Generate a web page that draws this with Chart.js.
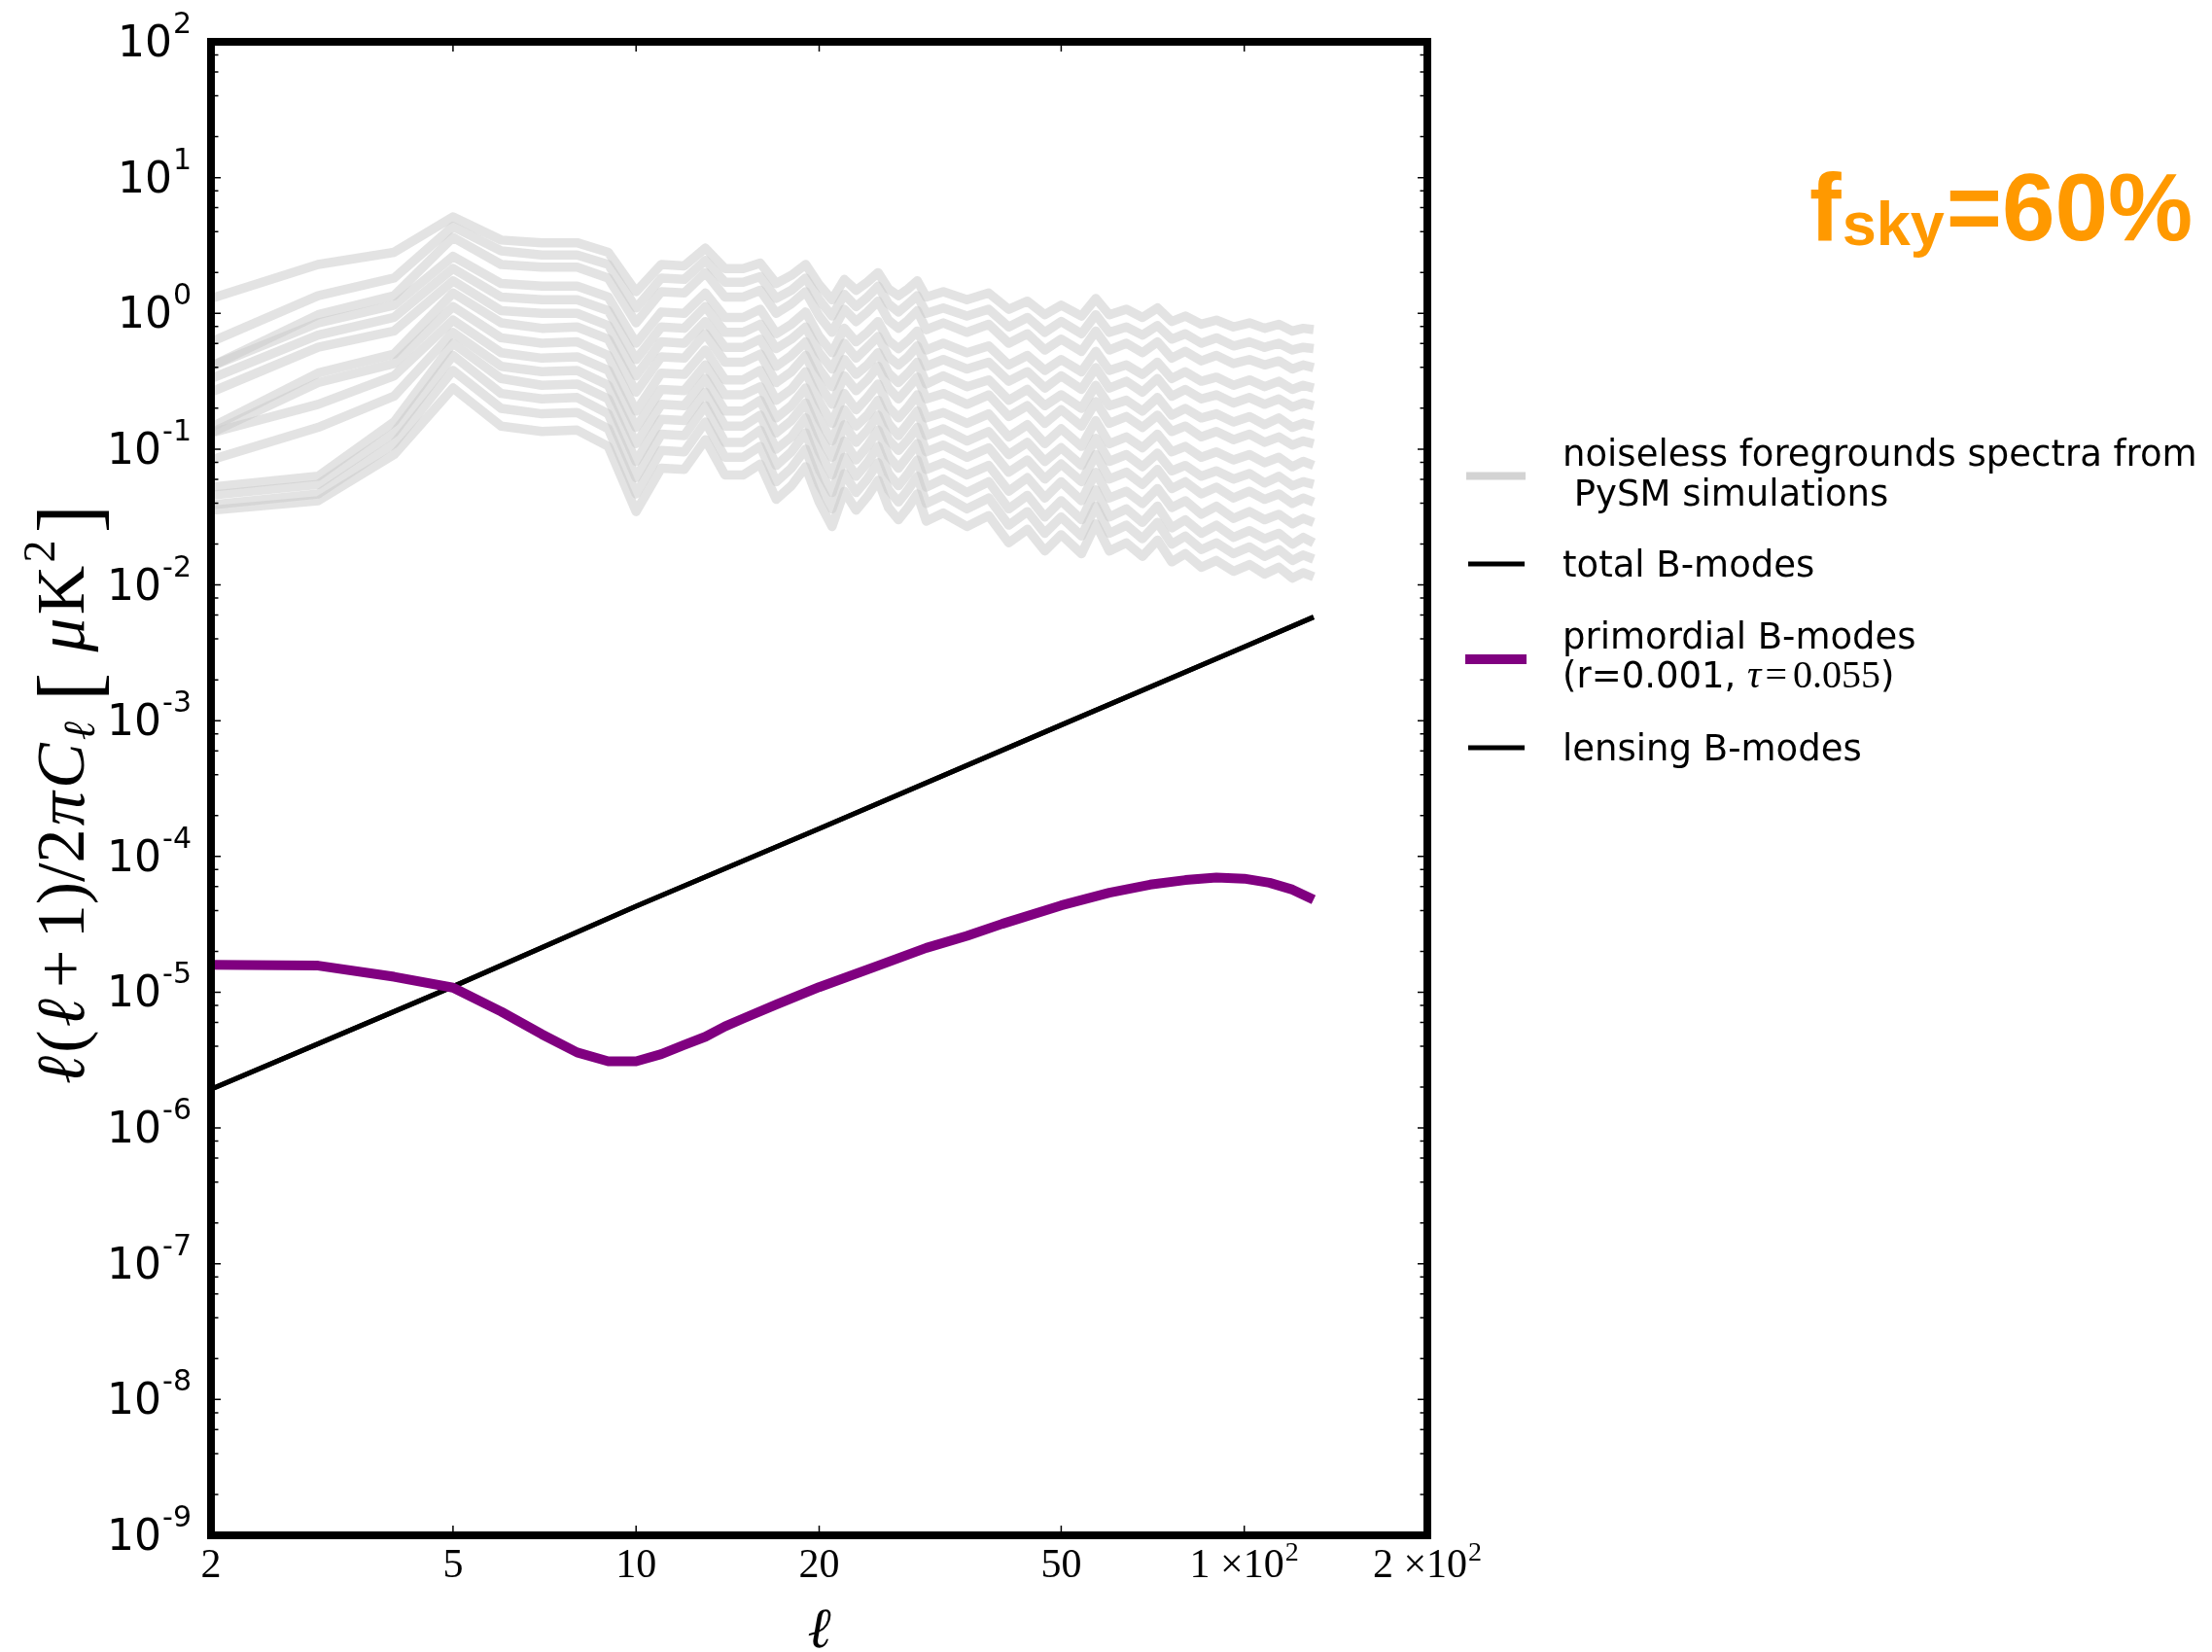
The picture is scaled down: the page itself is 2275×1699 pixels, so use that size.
<!DOCTYPE html>
<html><head><meta charset="utf-8">
<script src="https://cdn.jsdelivr.net/npm/chart.js@4/dist/chart.umd.min.js"></script>
<style>html,body{margin:0;padding:0;background:#fff;}#wrap{width:2275px;height:1699px;position:relative;}</style>
</head><body><div id="wrap"><canvas id="c"></canvas></div>
<script>
// multipole grid for the foreground spectra
const ellGrid = [2,3,4,5,6,7,8,9,10,11,12,13,14,15,16,17,18,19,20,21,22,23,24,25,26,27,28,29,30,32,35,38,41,44,47,50,54,57,60,64,68,72,76,80,85,90,96,102,108,114,120,125,130];
// foreground spectra, log10 of D_ell [uK^2]
const fgLog01 = [0.11,0.36,0.45,0.71,0.54,0.52,0.52,0.45,0.16,0.36,0.35,0.48,0.33,0.33,0.37,0.22,0.28,0.36,0.21,0.10,0.25,0.17,0.23,0.30,0.18,0.13,0.18,0.24,0.12,0.16,0.10,0.15,0.03,0.09,-0.01,0.06,-0.02,0.11,-0.01,0.03,-0.03,0.04,-0.06,-0.02,-0.08,-0.05,-0.10,-0.07,-0.11,-0.08,-0.13,-0.11,-0.12];
const fgLog02 = [-0.21,0.13,0.26,0.64,0.46,0.43,0.43,0.36,0.04,0.26,0.25,0.39,0.23,0.23,0.27,0.11,0.17,0.26,0.10,-0.02,0.14,0.05,0.12,0.20,0.07,0.01,0.07,0.13,0.00,0.04,-0.02,0.03,-0.10,-0.03,-0.14,-0.06,-0.15,-0.01,-0.14,-0.10,-0.16,-0.09,-0.19,-0.15,-0.22,-0.18,-0.24,-0.21,-0.25,-0.22,-0.27,-0.25,-0.26];
const fgLog03 = [-0.39,-0.01,0.13,0.56,0.36,0.34,0.34,0.26,-0.07,0.16,0.15,0.30,0.12,0.12,0.17,0.00,0.07,0.16,-0.02,-0.14,0.03,-0.06,0.01,0.09,-0.05,-0.11,-0.05,0.02,-0.12,-0.07,-0.14,-0.08,-0.22,-0.15,-0.27,-0.19,-0.28,-0.13,-0.27,-0.22,-0.29,-0.21,-0.33,-0.28,-0.35,-0.31,-0.37,-0.34,-0.38,-0.35,-0.41,-0.38,-0.40];
const fgLog04 = [-0.39,-0.07,0.06,0.42,0.22,0.20,0.20,0.12,-0.22,0.01,0.00,0.15,-0.03,-0.03,0.03,-0.15,-0.08,0.01,-0.17,-0.29,-0.11,-0.21,-0.14,-0.06,-0.20,-0.26,-0.20,-0.13,-0.27,-0.22,-0.29,-0.24,-0.38,-0.31,-0.42,-0.34,-0.43,-0.28,-0.42,-0.38,-0.45,-0.36,-0.48,-0.43,-0.50,-0.47,-0.53,-0.49,-0.54,-0.50,-0.56,-0.53,-0.55];
const fgLog05 = [-0.48,-0.16,-0.03,0.33,0.12,0.10,0.10,0.02,-0.34,-0.10,-0.11,0.05,-0.14,-0.14,-0.08,-0.26,-0.19,-0.10,-0.29,-0.41,-0.22,-0.33,-0.25,-0.17,-0.32,-0.38,-0.32,-0.24,-0.39,-0.34,-0.41,-0.36,-0.50,-0.43,-0.55,-0.46,-0.56,-0.40,-0.55,-0.50,-0.58,-0.48,-0.61,-0.56,-0.63,-0.60,-0.66,-0.62,-0.67,-0.63,-0.69,-0.66,-0.68];
const fgLog06 = [-0.58,-0.25,-0.13,0.24,0.02,0.00,0.00,-0.09,-0.46,-0.21,-0.22,-0.06,-0.25,-0.25,-0.19,-0.39,-0.31,-0.21,-0.41,-0.54,-0.34,-0.45,-0.38,-0.29,-0.44,-0.51,-0.44,-0.36,-0.52,-0.46,-0.54,-0.49,-0.64,-0.56,-0.68,-0.60,-0.70,-0.53,-0.68,-0.64,-0.72,-0.62,-0.75,-0.70,-0.77,-0.74,-0.80,-0.76,-0.82,-0.77,-0.84,-0.81,-0.83];
const fgLog07 = [-0.84,-0.44,-0.30,0.15,-0.07,-0.11,-0.10,-0.19,-0.58,-0.32,-0.33,-0.15,-0.36,-0.36,-0.30,-0.51,-0.43,-0.31,-0.52,-0.67,-0.46,-0.57,-0.49,-0.39,-0.55,-0.63,-0.55,-0.47,-0.63,-0.59,-0.67,-0.60,-0.76,-0.68,-0.81,-0.71,-0.83,-0.65,-0.81,-0.76,-0.84,-0.75,-0.87,-0.83,-0.91,-0.87,-0.93,-0.89,-0.95,-0.91,-0.97,-0.94,-0.96];
const fgLog08 = [-0.88,-0.51,-0.37,0.05,-0.18,-0.22,-0.21,-0.31,-0.72,-0.44,-0.45,-0.27,-0.49,-0.49,-0.42,-0.64,-0.56,-0.43,-0.65,-0.81,-0.59,-0.71,-0.62,-0.52,-0.69,-0.77,-0.69,-0.60,-0.77,-0.73,-0.81,-0.74,-0.91,-0.82,-0.96,-0.85,-0.98,-0.79,-0.96,-0.91,-0.99,-0.89,-1.02,-0.98,-1.06,-1.02,-1.08,-1.04,-1.10,-1.06,-1.13,-1.09,-1.12];
const fgLog09 = [-0.88,-0.67,-0.46,-0.05,-0.29,-0.33,-0.32,-0.42,-0.84,-0.56,-0.57,-0.38,-0.60,-0.60,-0.54,-0.77,-0.68,-0.55,-0.78,-0.94,-0.71,-0.83,-0.75,-0.64,-0.81,-0.90,-0.81,-0.72,-0.90,-0.85,-0.94,-0.87,-1.04,-0.95,-1.09,-0.99,-1.12,-0.92,-1.09,-1.04,-1.13,-1.03,-1.16,-1.12,-1.20,-1.16,-1.22,-1.18,-1.25,-1.20,-1.27,-1.24,-1.26];
const fgLog10 = [-1.08,-0.84,-0.61,-0.14,-0.39,-0.43,-0.42,-0.53,-0.96,-0.67,-0.68,-0.48,-0.72,-0.72,-0.64,-0.88,-0.79,-0.66,-0.90,-1.06,-0.82,-0.95,-0.86,-0.75,-0.93,-1.01,-0.93,-0.84,-1.02,-0.97,-1.06,-0.99,-1.17,-1.08,-1.22,-1.11,-1.24,-1.04,-1.22,-1.17,-1.26,-1.15,-1.29,-1.24,-1.33,-1.28,-1.36,-1.31,-1.37,-1.33,-1.40,-1.36,-1.39];
const fgLog11 = [-1.28,-1.20,-0.80,-0.22,-0.48,-0.53,-0.52,-0.63,-1.09,-0.78,-0.79,-0.58,-0.83,-0.83,-0.75,-1.00,-0.91,-0.77,-1.02,-1.19,-0.94,-1.08,-0.98,-0.86,-1.05,-1.14,-1.05,-0.96,-1.15,-1.10,-1.19,-1.12,-1.31,-1.21,-1.36,-1.24,-1.38,-1.17,-1.36,-1.31,-1.40,-1.29,-1.43,-1.38,-1.48,-1.42,-1.51,-1.46,-1.52,-1.48,-1.55,-1.51,-1.54];
const fgLog12 = [-1.34,-1.26,-0.88,-0.31,-0.59,-0.63,-0.62,-0.74,-1.21,-0.89,-0.90,-0.68,-0.95,-0.95,-0.86,-1.12,-1.02,-0.88,-1.15,-1.32,-1.06,-1.20,-1.10,-0.98,-1.18,-1.27,-1.18,-1.08,-1.28,-1.22,-1.32,-1.24,-1.44,-1.34,-1.50,-1.38,-1.52,-1.30,-1.50,-1.44,-1.54,-1.42,-1.58,-1.52,-1.62,-1.56,-1.65,-1.60,-1.66,-1.62,-1.70,-1.65,-1.69];
const fgLog13 = [-1.41,-1.33,-0.96,-0.42,-0.70,-0.74,-0.73,-0.85,-1.33,-1.01,-1.02,-0.80,-1.06,-1.06,-0.98,-1.24,-1.14,-1.00,-1.26,-1.44,-1.18,-1.32,-1.22,-1.10,-1.30,-1.39,-1.30,-1.20,-1.40,-1.34,-1.44,-1.36,-1.56,-1.46,-1.62,-1.50,-1.64,-1.42,-1.62,-1.56,-1.66,-1.54,-1.70,-1.64,-1.74,-1.69,-1.77,-1.72,-1.79,-1.74,-1.82,-1.78,-1.81];
const fgLog14 = [-1.45,-1.38,-1.04,-0.55,-0.83,-0.87,-0.86,-0.98,-1.46,-1.14,-1.15,-0.93,-1.19,-1.19,-1.11,-1.37,-1.27,-1.13,-1.39,-1.57,-1.31,-1.45,-1.35,-1.23,-1.43,-1.52,-1.43,-1.33,-1.53,-1.47,-1.57,-1.49,-1.69,-1.59,-1.75,-1.63,-1.77,-1.55,-1.75,-1.69,-1.79,-1.67,-1.83,-1.77,-1.87,-1.82,-1.90,-1.85,-1.92,-1.87,-1.95,-1.91,-1.94];
const foregroundLogs = [fgLog01,fgLog02,fgLog03,fgLog04,fgLog05,fgLog06,fgLog07,fgLog08,fgLog09,fgLog10,fgLog11,fgLog12,fgLog13,fgLog14];

// primordial B-modes (r=0.001, tau=0.055)
const primEll = [2,3,4,5,6,7,8,9,10,11,12,13,14,15,17,20,25,30,35,40,50,60,70,80,90,100,110,120,130];
const primVal = [1.59e-5,1.57e-5,1.30e-5,1.08e-5,7.2e-6,4.9e-6,3.6e-6,3.1e-6,3.1e-6,3.5e-6,4.1e-6,4.7e-6,5.6e-6,6.4e-6,8.1e-6,1.09e-5,1.57e-5,2.12e-5,2.6e-5,3.19e-5,4.36e-5,5.4e-5,6.2e-5,6.7e-5,7.0e-5,6.86e-5,6.4e-5,5.7e-5,4.8e-5];
// total and lensing B-modes (drawn on top of each other in the reference)
const bmodeEll = [2,5,10,20,50,100,130];
const totalVal = [1.93e-6,1.1e-5,4.3e-5,1.6e-4,9.3e-4,3.5e-3,5.8e-3];
const lensingVal = [1.93e-6,1.1e-5,4.3e-5,1.6e-4,9.3e-4,3.5e-3,5.8e-3];

// axes
const xTickVals = [2,5,10,20,50,100,200];
const xTickMain = ['2','5','10','20','50','1 \u00d710','2 \u00d710'];
const xTickSup  = ['','','','','','2','2'];
const yTickExps = [2,1,0,-1,-2,-3,-4,-5,-6,-7,-8,-9];
const yMinorMult = [2,4,6,8];

const legendLabels = ['noiseless foregrounds spectra from', ' PySM simulations', 'total B-modes', 'primordial B-modes', '(r=0.001, ', '\u03c4', '=', '0.055', ')', 'lensing B-modes'];
const fskyText = ['f','sky','=60%'];

const toPts = (xs, ys) => xs.map((l,i)=>({x:l, y:ys[i]}));
const datasets = [];
datasets.push({label:'total B-modes', data:toPts(bmodeEll,totalVal), borderColor:'#000', borderWidth:5, order:1});
datasets.push({label:'primordial B-modes', data:toPts(primEll,primVal), borderColor:'#800080', borderWidth:10, order:0});
datasets.push({label:'lensing B-modes', data:toPts(bmodeEll,lensingVal), borderColor:'#000', borderWidth:5, order:2});
foregroundLogs.forEach((arr,k)=>{
  datasets.push({label:'fg'+(k+1), data:ellGrid.map((l,i)=>({x:l, y:Math.pow(10, arr[i])})),
    borderColor:'rgba(204,204,204,0.55)', borderWidth:9.5, order:10+k});
});

const framePlugin = {
  id:'frame',
  afterDraw(chart){
    const {ctx, chartArea:a, scales:{x, y}} = chart;
    ctx.save();
    // ticks (inward, all four sides)
    ctx.strokeStyle='#000'; ctx.lineWidth=1.5;
    ctx.beginPath();
    xTickVals.forEach(v=>{ const px=x.getPixelForValue(v);
      ctx.moveTo(px,a.bottom); ctx.lineTo(px,a.bottom-10);
      ctx.moveTo(px,a.top); ctx.lineTo(px,a.top+10); });
    yTickExps.forEach(e=>{ const py=y.getPixelForValue(Math.pow(10,e));
      ctx.moveTo(a.left,py); ctx.lineTo(a.left+10,py);
      ctx.moveTo(a.right,py); ctx.lineTo(a.right-10,py); });
    yTickExps.forEach(e=>{ if(e>=2) return; yMinorMult.forEach(m=>{
      const py=y.getPixelForValue(m*Math.pow(10,e));
      ctx.moveTo(a.left,py); ctx.lineTo(a.left+7.5,py);
      ctx.moveTo(a.right,py); ctx.lineTo(a.right-7.5,py); }); });
    ctx.stroke();
    // frame
    ctx.lineWidth=8; ctx.strokeRect(a.left,a.top,a.right-a.left,a.bottom-a.top);

    ctx.fillStyle='#000'; ctx.textBaseline='alphabetic';
    // y tick labels
    yTickExps.forEach(e=>{
      const py=y.getPixelForValue(Math.pow(10,e));
      const sup=String(e);
      ctx.textAlign='right';
      ctx.font='30px "DejaVu Sans"'; const sw=ctx.measureText(sup).width;
      ctx.fillText(sup, a.left-20, py-9);
      ctx.font='44px "DejaVu Sans"';
      ctx.fillText('10', a.left-20-sw-1, py+15);
    });
    // x tick labels
    ctx.textAlign='left';
    xTickVals.forEach((v,i)=>{
      const px=x.getPixelForValue(v);
      ctx.font='42px "Liberation Serif"'; const mw=ctx.measureText(xTickMain[i]).width;
      ctx.font='28px "Liberation Serif"'; const sw=xTickSup[i]?ctx.measureText(xTickSup[i]).width+1:0;
      const st=px-(mw+sw)/2;
      ctx.font='42px "Liberation Serif"'; ctx.fillText(xTickMain[i], st, a.bottom+43);
      if(xTickSup[i]){ ctx.font='28px "Liberation Serif"'; ctx.fillText(xTickSup[i], st+mw+1, a.bottom+26); }
    });
    // x title
    ctx.textAlign='center';
    ctx.font='italic 58px "DejaVu Serif"';
    ctx.fillText('\u2113', (a.left+a.right)/2, 1694);
    // y title (rotated)
    ctx.save();
    ctx.translate(86,(a.top+a.bottom)/2+4);
    ctx.rotate(-Math.PI/2);
    const F=70, it=`italic ${F}px "Liberation Serif"`, rm=`${F}px "Liberation Serif"`, el=`italic ${F}px "DejaVu Serif"`;
    const parts=[
      {t:'\u2113',f:el,dy:0},
      {t:'(',f:rm,dy:0},
      {t:'\u2113',f:el,dy:0},
      {t:'+',f:rm,dy:0,pad:8},
      {t:'1)/2',f:rm,dy:0},
      {t:'\u03c0',f:it,dy:0},
      {t:'C',f:it,dy:0},
      {t:'\u2113',f:`italic 46px "DejaVu Serif"`,dy:11},
      {t:'[',f:`88px "Liberation Serif"`,dy:14,pad:18},
      {t:'\u03bc',f:it,dy:0},
      {t:'K',f:rm,dy:0},
      {t:'2',f:`46px "Liberation Serif"`,dy:-30},
      {t:']',f:`88px "Liberation Serif"`,dy:14,pad:4}
    ];
    let tot=0; parts.forEach(p=>{ctx.font=p.f; p.w=ctx.measureText(p.t).width; tot+=p.w+2*(p.pad||0);});
    const target=600, extra=Math.max(0,(target-tot)/(parts.length-1));
    let cx=-(tot+extra*(parts.length-1))/2;
    ctx.textAlign='left';
    parts.forEach(p=>{ cx+=(p.pad||0); ctx.font=p.f; ctx.fillText(p.t,cx,p.dy); cx+=p.w+(p.pad||0)+extra; });
    ctx.restore();

    // legend
    ctx.textAlign='left';
    ctx.fillStyle='#d3d3d3'; ctx.fillRect(1508,485.5,61,8);
    ctx.fillStyle='#000'; ctx.fillRect(1510,577.5,58,5);
    ctx.fillStyle='#800080'; ctx.fillRect(1507,673,63,10);
    ctx.fillStyle='#000'; ctx.fillRect(1510,766.5,58,5);
    ctx.font='37px "DejaVu Sans"';
    ctx.fillText(legendLabels[0],1607,479);
    ctx.fillText(legendLabels[1],1607,520);
    ctx.fillText(legendLabels[2],1607,593);
    ctx.fillText(legendLabels[3],1607,667);
    ctx.fillText(legendLabels[4],1607,707);
    let lx=1607+ctx.measureText(legendLabels[4]).width;
    ctx.font='italic 40px "Liberation Serif"'; ctx.fillText(legendLabels[5],lx,707); lx+=ctx.measureText(legendLabels[5]).width+4;
    ctx.font='40px "Liberation Serif"'; ctx.fillText(legendLabels[6],lx,707); lx+=ctx.measureText(legendLabels[6]).width+6;
    ctx.fillText(legendLabels[7],lx,707); lx+=ctx.measureText(legendLabels[7]).width;
    ctx.font='37px "DejaVu Sans"'; ctx.fillText(legendLabels[8],lx,707);
    ctx.fillText(legendLabels[9],1607,782);

    // f_sky annotation
    ctx.fillStyle='#FF9900';
    ctx.font='bold 98px "Liberation Sans"'; ctx.fillText(fskyText[0],1861,247);
    let fx=1861+ctx.measureText(fskyText[0]).width+1;
    ctx.font='bold 63px "Liberation Sans"'; ctx.fillText(fskyText[1],fx,252);
    fx+=ctx.measureText(fskyText[1]).width+2;
    ctx.font='bold 98px "Liberation Sans"'; ctx.fillText(fskyText[2],fx,247);
    ctx.restore();
  }
};

new Chart(document.getElementById('c'), {
  type:'line',
  data:{datasets},
  options:{
    responsive:true, maintainAspectRatio:false, animation:false, devicePixelRatio:1,
    layout:{padding:{left:0, top:43, right:807, bottom:0}},
    plugins:{legend:{display:false}, tooltip:{enabled:false}},
    elements:{point:{radius:0, hoverRadius:0}, line:{tension:0, borderJoinStyle:'round', borderCapStyle:'butt', fill:false}},
    events:[],
    scales:{
      x:{type:'logarithmic', min:2, max:200, grid:{display:false}, border:{display:false}, ticks:{display:false},
         afterFit:s=>{ s.height=120; }},
      y:{type:'logarithmic', min:1e-9, max:1e2, grid:{display:false}, border:{display:false}, ticks:{display:false},
         afterFit:s=>{ s.width=217; }}
    }
  },
  plugins:[framePlugin]
});
</script>
</body></html>
